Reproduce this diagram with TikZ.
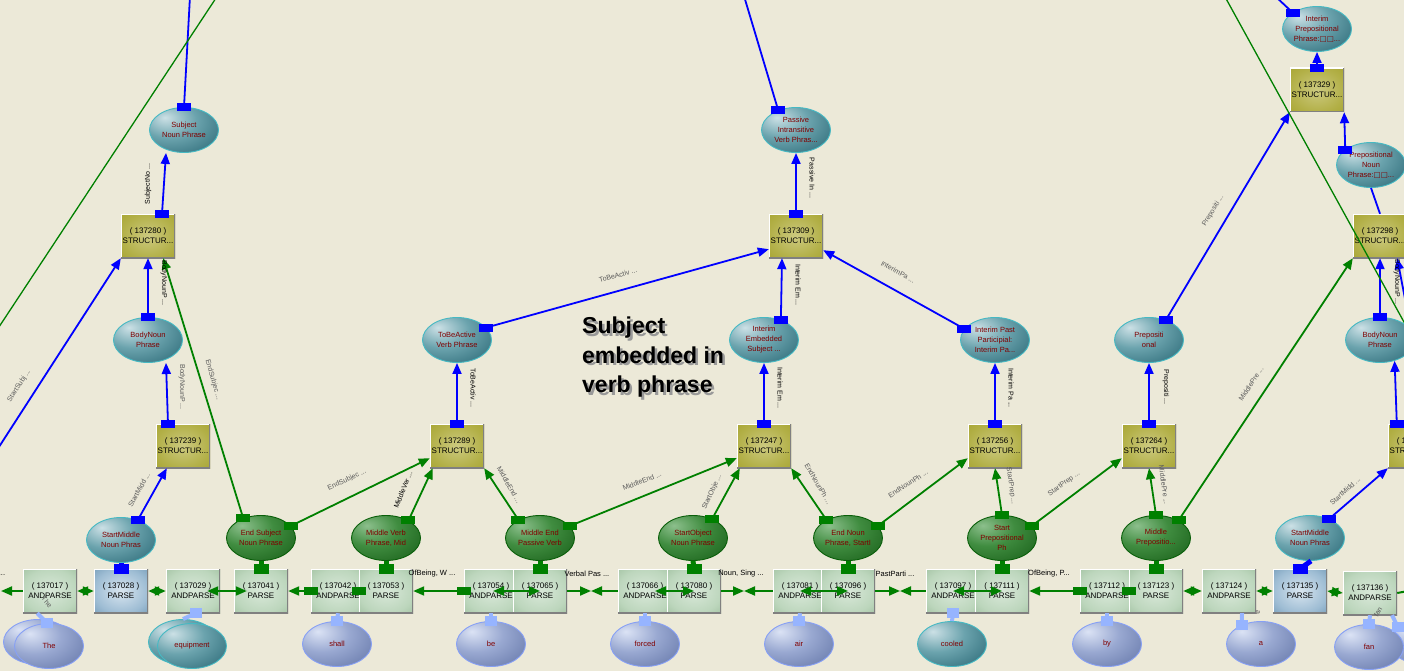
\documentclass[tikz,border=0pt]{standalone}
\usepackage{fontspec}
\setmainfont{Liberation Sans}
\newfontfamily\dvs{DejaVu Sans}
\usetikzlibrary{shapes.geometric,arrows.meta}
\definecolor{bg}{RGB}{236,233,216}
\definecolor{txtred}{RGB}{128,0,0}
\definecolor{tealbd}{RGB}{70,185,195}
\definecolor{grnbd}{RGB}{10,95,10}
\definecolor{wordbd}{RGB}{135,160,245}
\definecolor{glink}{RGB}{0,128,0}
\definecolor{blink}{RGB}{0,0,255}
\definecolor{wlinkc}{RGB}{150,180,255}
\definecolor{boxbd}{RGB}{128,128,128}
\pgfdeclareradialshading{tealsh}{\pgfpoint{-14bp}{14bp}}{rgb(0bp)=(0.80,0.88,0.90); rgb(20bp)=(0.42,0.64,0.68); rgb(42bp)=(0.20,0.44,0.49); rgb(70bp)=(0.16,0.38,0.43); rgb(100bp)=(0.16,0.38,0.43)}
\pgfdeclareradialshading{greensh}{\pgfpoint{-14bp}{14bp}}{rgb(0bp)=(0.55,0.75,0.55); rgb(20bp)=(0.25,0.55,0.25); rgb(42bp)=(0.12,0.40,0.12); rgb(100bp)=(0.08,0.32,0.08)}
\pgfdeclareradialshading{wordsh}{\pgfpoint{-14bp}{14bp}}{rgb(0bp)=(0.86,0.89,0.96); rgb(20bp)=(0.60,0.66,0.82); rgb(42bp)=(0.42,0.49,0.68); rgb(100bp)=(0.38,0.45,0.64)}
\pgfdeclareradialshading{olivesh}{\pgfpoint{0bp}{0bp}}{rgb(0bp)=(0.80,0.79,0.50); rgb(25bp)=(0.70,0.69,0.28); rgb(45bp)=(0.63,0.62,0.15); rgb(100bp)=(0.60,0.59,0.12)}
\pgfdeclareradialshading{parsesh}{\pgfpoint{0bp}{0bp}}{rgb(0bp)=(0.85,0.91,0.85); rgb(25bp)=(0.74,0.84,0.74); rgb(45bp)=(0.58,0.72,0.58); rgb(100bp)=(0.54,0.69,0.54)}
\pgfdeclareradialshading{bparsesh}{\pgfpoint{0bp}{0bp}}{rgb(0bp)=(0.85,0.90,0.94); rgb(25bp)=(0.62,0.74,0.83); rgb(45bp)=(0.38,0.55,0.67); rgb(100bp)=(0.34,0.52,0.64)}
\tikzset{
 bevel/.style={path picture={\draw[white,line width=2.4pt] (path picture bounding box.south west) -- (path picture bounding box.north west) -- (path picture bounding box.north east); \draw[boxbd,line width=2.4pt] (path picture bounding box.north east) -- (path picture bounding box.south east) -- (path picture bounding box.south west);}},
 boxbase/.style={rectangle, minimum width=54pt, minimum height=44pt, inner sep=0pt, align=center, font=\fontsize{8}{10}\selectfont, text=black, bevel},
 struct/.style={boxbase, shade, shading=olivesh},
 andp/.style={boxbase, shade, shading=parsesh},
 bparse/.style={boxbase, shade, shading=bparsesh},
 ellbase/.style={ellipse, minimum width=69pt, minimum height=45pt, inner sep=0pt, align=center, font=\fontsize{7.5}{10}\selectfont, text=txtred, line width=0.9pt},
 phrase/.style={ellbase, shade, shading=tealsh, draw=tealbd},
 gphrase/.style={ellbase, shade, shading=greensh, draw=grnbd},
 word/.style={ellbase, shade, shading=wordsh, draw=wordbd},
 wordt/.style={ellbase, shade, shading=tealsh, draw=tealbd},
 bedge/.style={color=blink, line width=1.8pt},
 gedge/.style={color=glink, line width=1.8pt},
 hedge/.style={color=glink, line width=2pt},
 wlink/.style={color=wlinkc, line width=4pt},
 longg/.style={color=glink, line width=1.3pt},
 elab/.style={font=\fontsize{7}{8}\selectfont, inner sep=0pt, text=black!65},
 vlab/.style={font=\fontsize{7}{8}\selectfont, inner sep=0pt, text=black},
 blab/.style={font=\fontsize{7.5}{8}\selectfont, inner sep=0pt, text=black},
 caption/.style={font=\bfseries\fontsize{23}{29.5}\selectfont, align=left, anchor=north west, inner sep=0pt},
}
\newcommand\tailsq[2]{\fill[#1] (#2) ++(-7,-4) rectangle ++(14,8);}
\newcommand\edgeto[3]{\draw[#1,->] (#2) -- (#3); \tailsq{#1}{#2}}
\newcommand\stemlink[3]{\draw[#1,line width=5pt] (#2) -- (#3); \fill[#1] (#3) ++(-7.5,-5) rectangle ++(15,10);}
\newcommand\wlk[2]{\draw[wlink] (#1) -- (#2); \fill[wlinkc] (#1) ++(-6,-5) rectangle ++(12,10);}
\begin{document}
\begin{tikzpicture}[x=1pt,y=-1pt,>={Triangle[length=11pt,width=9pt]}]
\useasboundingbox (0,0) rectangle (1404,671);
\fill[bg] (0,0) rectangle (1404,671);
\clip (0,0) rectangle (1404,671);

% free ends
\coordinate (offT1) at (190,-4);
\coordinate (offT2) at (744,-4);
\coordinate (offT3) at (1275,-4);
\coordinate (offL1) at (-3,450);
\coordinate (offR1) at (1410,325);
\coordinate (offL2) at (1,591);
\coordinate (offR2) at (1408,591);
\coordinate (gA1) at (-5,333);
\coordinate (gA2) at (218,-5);
\coordinate (gB1) at (1224,-5);
\coordinate (gB2) at (1410,333);
\coordinate (m1) at (591,591);
\coordinate (m2) at (744,591);
\coordinate (m3) at (900,591);

% structure boxes
\node[struct] (s280) at (148,236) {( 137280 )\\STRUCTUR...};
\node[struct] (s239) at (183,446) {( 137239 )\\STRUCTUR...};
\node[struct] (s289) at (457,446) {( 137289 )\\STRUCTUR...};
\node[struct] (s309) at (796,236) {( 137309 )\\STRUCTUR...};
\node[struct] (s247) at (764,446) {( 137247 )\\STRUCTUR...};
\node[struct] (s256) at (995,446) {( 137256 )\\STRUCTUR...};
\node[struct] (s264) at (1149,446) {( 137264 )\\STRUCTUR...};
\node[struct] (s329) at (1317,90) {( 137329 )\\STRUCTUR...};
\node[struct] (s298) at (1380,236) {( 137298 )\\STRUCTUR...};
\node[struct] (sr) at (1415,446) {( 1\phantom{37305 )}\\STRUCTUR...};

% phrase ellipses
\node[phrase] (snp) at (184,130) {Subject\\Noun Phrase};
\node[phrase] (bnp1) at (148,340) {BodyNoun\\Phrase};
\node[phrase] (tba) at (457,340) {ToBeActive\\Verb Phrase};
\node[phrase] (piv) at (796,130) {Passive\\Intransitive\\Verb Phras...};
\node[phrase] (ies) at (764,340) {Interim\\Embedded\\Subject ...};
\node[phrase] (ipp) at (995,340) {Interim Past\\Participial:\\Interim Pa...};
\node[phrase] (prep) at (1149,340) {Prepositi\\onal};
\node[phrase] (bnp2) at (1380,340) {BodyNoun\\Phrase};
\node[phrase] (ipph) at (1317,29) {Interim\\Prepositional\\Phrase:{\dvs □□}...};
\node[phrase] (pnp) at (1371,165) {Prepositional\\Noun\\Phrase:{\dvs □□}...};
\node[phrase] (smnp1) at (121,540) {StartMiddle\\Noun Phras};
\node[phrase] (smnp2) at (1310,538) {StartMiddle\\Noun Phras};

% constituent ellipses
\node[gphrase] (esnp) at (261,538) {End Subject\\Noun Phrase};
\node[gphrase] (mvp) at (386,538) {Middle Verb\\Phrase, Mid};
\node[gphrase] (mepv) at (540,538) {Middle End\\Passive Verb};
\node[gphrase] (sonp) at (693,538) {StartObject\\Noun Phrase};
\node[gphrase] (enp) at (848,538) {End Noun\\Phrase, StartI};
\node[gphrase] (spp) at (1002,538) {Start\\Prepositional\\Ph};
\node[gphrase] (mpp) at (1156,538) {Middle\\Prepositio...};

% parse boxes
\node[andp] (a017) at (50,591) {( 137017 )\\ANDPARSE};
\node[bparse] (p028) at (121,591) {( 137028 )\\PARSE};
\node[andp] (a029) at (193,591) {( 137029 )\\ANDPARSE};
\node[andp] (p041) at (261,591) {( 137041 )\\PARSE};
\node[andp] (a042) at (338,591) {( 137042 )\\ANDPARSE};
\node[andp] (p053) at (386,591) {( 137053 )\\PARSE};
\node[andp] (a054) at (491,591) {( 137054 )\\ANDPARSE};
\node[andp] (p065) at (540,591) {( 137065 )\\PARSE};
\node[andp] (a066) at (645,591) {( 137066 )\\ANDPARSE};
\node[andp] (p080) at (694,591) {( 137080 )\\PARSE};
\node[andp] (a081) at (800,591) {( 137081 )\\ANDPARSE};
\node[andp] (p096) at (848,591) {( 137096 )\\PARSE};
\node[andp] (a097) at (953,591) {( 137097 )\\ANDPARSE};
\node[andp] (p111) at (1002,591) {( 137111 )\\PARSE};
\node[andp] (a112) at (1107,591) {( 137112 )\\ANDPARSE};
\node[andp] (p123) at (1156,591) {( 137123 )\\PARSE};
\node[andp] (a124) at (1229,591) {( 137124 )\\ANDPARSE};
\node[bparse] (p135) at (1300,591) {( 137135 )\\PARSE};
\node[andp] (a136) at (1370,593) {( 137136 )\\ANDPARSE};

% word ellipses
\node[word] (wThe0) at (38,642) {};
\node[word] (wThe) at (49,646) {The};
\node[wordt] (wEq0) at (183,642) {};
\node[wordt] (wEq) at (192,646) {equipment};
\node[word] (wShall) at (337,644) {shall};
\node[word] (wBe) at (491,644) {be};
\node[word] (wForced) at (645,644) {forced};
\node[word] (wAir) at (799,644) {air};
\node[wordt] (wCooled) at (952,644) {cooled};
\node[word] (wBy) at (1107,644) {by};
\node[word] (wA) at (1261,644) {a};
\node[word] (wFan0) at (1424,642) {};
\node[word] (wFan) at (1369,647) {fan};

% blue structure edges
\edgeto{bedge}{[xshift=14pt]s280.north}{[xshift=-18pt]snp.south}
\draw[bedge] (snp.north) -- (offT1); \tailsq{bedge}{snp.north}
\edgeto{bedge}{bnp1.north}{s280.south}
\edgeto{bedge}{[xshift=-15pt]s239.north}{[xshift=18pt]bnp1.south}
\edgeto{bedge}{smnp1.50}{[xshift=11pt]s239.south west}
\draw[bedge,->] (offL1) -- (s280.south west);
\edgeto{bedge}{s289.north}{tba.south}
\edgeto{bedge}{tba.23}{[yshift=9pt]s309.south west}
\edgeto{bedge}{s309.north}{piv.south}
\draw[bedge] (piv.132) -- (offT2); \tailsq{bedge}{piv.132}
\edgeto{bedge}{ies.50}{[xshift=-14pt]s309.south}
\edgeto{bedge}{s247.north}{ies.south}
\edgeto{bedge}{ipp.160}{[yshift=8pt]s309.south east}
\edgeto{bedge}{s256.north}{ipp.south}
\edgeto{bedge}{s264.north}{prep.south}
\edgeto{bedge}{prep.50}{s329.south west}
\edgeto{bedge}{s329.north}{ipph.south}
\draw[bedge] (ipph.146) -- (offT3); \tailsq{bedge}{ipph.146}
\edgeto{bedge}{pnp.149}{s329.south east}
\draw[bedge] (s298.north) -- (pnp.south);
\edgeto{bedge}{bnp2.north}{s298.south}
\draw[bedge,->] (offR1) -- ([xshift=-10pt]s298.south east);
\edgeto{bedge}{[xshift=9pt]sr.north west}{bnp2.-55}
\edgeto{bedge}{smnp2.45}{sr.south west}
\stemlink{bedge}{smnp1.south}{p028.north}
\stemlink{bedge}{[xshift=1pt]smnp2.south}{p135.north}

% green constituent edges
\edgeto{gedge}{esnp.132}{[xshift=-12pt]s280.south east}
\edgeto{gedge}{esnp.22}{[yshift=10pt]s289.south west}
\edgeto{gedge}{mvp.38}{[xshift=3pt]s289.south west}
\edgeto{gedge}{mepv.140}{s289.south east}
\edgeto{gedge}{mepv.22}{[yshift=10pt]s247.south west}
\edgeto{gedge}{sonp.45}{[xshift=3pt]s247.south west}
\edgeto{gedge}{enp.140}{s247.south east}
\edgeto{gedge}{enp.22}{[yshift=10pt]s256.south west}
\edgeto{gedge}{spp.north}{s256.south}
\edgeto{gedge}{spp.22}{[yshift=10pt]s264.south west}
\edgeto{gedge}{mpp.north}{s264.south}
\edgeto{gedge}{mpp.38}{s298.south west}
\stemlink{gedge}{esnp.south}{p041.north}
\stemlink{gedge}{mvp.south}{p053.north}
\stemlink{gedge}{mepv.south}{p065.north}
\stemlink{gedge}{sonp.south}{p080.north}
\stemlink{gedge}{enp.south}{p096.north}
\stemlink{gedge}{spp.south}{p111.north}
\stemlink{gedge}{mpp.south}{p123.north}

% horizontal chain
\draw[hedge,->] (a017.west) -- (offL2);
\draw[hedge,<->] (a017.east) -- (p028.west);
\draw[hedge,<->] (p028.east) -- (a029.west);
\draw[hedge,<->] ([xshift=-13pt]a029.east) -- ([xshift=13pt]p041.west);
\edgeto{hedge}{a042.west}{p041.east}
\draw[hedge] (p053.west) -- ([xshift=-8pt]a042.east); \tailsq{hedge}{p053.west}
\edgeto{hedge}{a054.west}{p053.east}
\draw[hedge,<->] ([xshift=2pt]a054.center) -- (p065.center);
\draw[hedge,->] (p065.east) -- (m1);
\draw[hedge,->] (a066.west) -- (m1);
\draw[hedge,<->] ([xshift=10pt]a066.center) -- (p080.center);
\draw[hedge,->] (p080.east) -- (m2);
\draw[hedge,->] (a081.west) -- (m2);
\draw[hedge,<->] (a081.center) -- (p096.center);
\draw[hedge,->] (p096.east) -- (m3);
\draw[hedge,->] (a097.west) -- (m3);
\draw[hedge,<->] (a097.center) -- (p111.center);
\edgeto{hedge}{a112.west}{p111.east}
\draw[hedge] (p123.west) -- ([xshift=-8pt]a112.east); \tailsq{hedge}{p123.west}
\draw[hedge,<->] (p123.east) -- (a124.west);
\draw[hedge,<->] (a124.east) -- (p135.west);
\draw[hedge,<->] (p135.east) -- (a136.west);
\draw[hedge] (a136.east) -- (offR2);

% word links
\wlk{[xshift=-2pt]wThe.north}{a017.-120}
\wlk{[xshift=3pt]a029.south}{wEq0.north}
\wlk{wShall.north}{a042.south}
\wlk{wBe.north}{a054.south}
\wlk{wForced.north}{a066.south}
\wlk{wAir.north}{a081.south}
\wlk{a097.south}{wCooled.north}
\wlk{wBy.north}{a112.south}
\wlk{wA.135}{[xshift=13pt]a124.south}
\wlk{wFan.north}{a136.south}
\wlk{wFan0.150}{[xshift=22pt]a136.south}

% edge labels
\node[vlab, rotate=90] (l1) at (148,184) {SubjectNo ...};
\node[vlab, rotate=-90] (l2) at (164,283) {BodyNounP ...};
\node[elab, rotate=-90] (l3) at (182,387) {BodyNounP ...};
\node[elab, rotate=-74] (l4) at (213,380) {EndSubjec ...};
\node[elab, rotate=57] (l5) at (19,386) {StartSubj ...};
\node[elab, rotate=61] (l6) at (139,490) {StartMidd ...};
\node[elab, rotate=25] (l7) at (347,480) {EndSubjec ...};
\node[vlab, rotate=68] (l8) at (403,490) {MiddleVer ...};
\node[vlab, rotate=-90] (l9) at (473,388) {ToBeActiv ...};
\node[elab, rotate=15] (l10) at (618,275) {ToBeActiv ...};
\node[vlab, rotate=-90] (l11) at (812,178) {Passive In ...};
\node[vlab, rotate=-90] (l12) at (798,285) {Interim Em ...};
\node[vlab, rotate=-90] (l13) at (780,388) {Interim Em ...};
\node[elab, rotate=-29] (l14) at (898,272) {InterimPa ...};
\node[elab, rotate=-60] (l15) at (509,485) {MiddleEnd ...};
\node[elab, rotate=21] (l16) at (642,481) {MiddleEnd ...};
\node[elab, rotate=65] (l17) at (712,492) {StartObje ...};
\node[elab, rotate=-60] (l18) at (818,484) {EndNounPh ...};
\node[elab, rotate=33] (l19) at (908,484) {EndNounPh ...};
\node[elab, rotate=-82] (l20) at (1011,486) {StartPrep ...};
\node[elab, rotate=36] (l21) at (1064,484) {StartPrep ...};
\node[vlab, rotate=-90] (l22) at (1011,388) {Interim Pa ...};
\node[vlab, rotate=-90] (l23) at (1166,387) {Prepositi ...};
\node[elab, rotate=-82] (l24) at (1164,485) {MiddlePre ...};
\node[elab, rotate=57] (l25) at (1251,384) {MiddlePre ...};
\node[elab, rotate=59] (l26) at (1213,211) {Prepositi ...};
\node[vlab, rotate=-90] (l27) at (1397,282) {BodyNounP ...};
\node[elab, rotate=42] (l28) at (1345,491) {StartMidd ...};
\node[blab] (l29) at (432,574) {OfBeing, W ...};
\node[blab] (l30) at (587,574) {Verbal Pas ...};
\node[blab] (l31) at (741,574) {Noun, Sing ...};
\node[blab] (l32) at (895,574) {PastParti ...};
\node[blab] (l33) at (1049,574) {OfBeing, P...};
\node[blab] (l34) at (2,575) {...};
\node[elab, rotate=-50] (l35) at (47,602) {The};
\node[elab, rotate=-90] (l36) at (1258,612) {a};
\node[elab, rotate=60] (l37) at (1378,612) {fan};

% caption
\node[caption, text=black!40] (capsh) at (584.5,319.5) {Subject\\embedded in\\verb phrase};
\node[caption, text=black] (cap) at (582,317) {Subject\\embedded in\\verb phrase};

% long green lines
\draw[longg] (gA1) -- (gA2);
\draw[longg] (gB1) -- (gB2);
\end{tikzpicture}
\end{document}
